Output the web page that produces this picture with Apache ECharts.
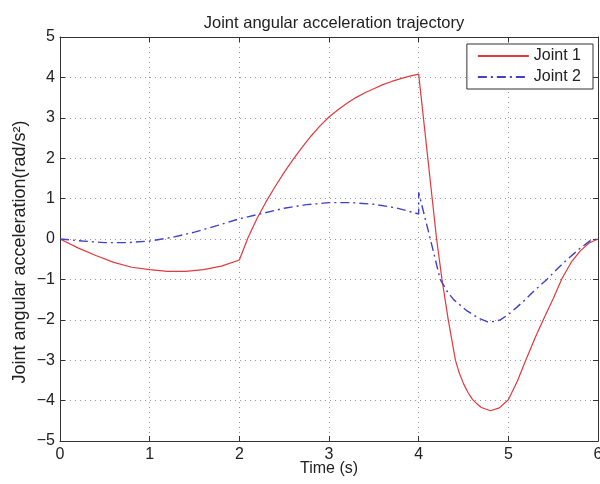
<!DOCTYPE html>
<html>
<head>
<meta charset="utf-8">
<script src="https://cdn.jsdelivr.net/npm/echarts@6/dist/echarts.min.js"></script>
<style>
html,body{margin:0;padding:0;background:#fff;}
#chart{width:600px;height:484px;}
</style>
</head>
<body>
<div id="chart"></div>
<script>
// ---- data ----
const titleText = 'Joint angular acceleration trajectory';
const xName = 'Time (s)';
const yName = 'Joint angular acceleration(rad/s\u00B2)';
const seriesNames = ['Joint 1', 'Joint 2'];

const timeJoint1 = [0, 0.2, 0.4, 0.6, 0.8, 1.0, 1.2, 1.4, 1.6, 1.8, 2.0,
  2.1, 2.2, 2.3, 2.4, 2.5, 2.6, 2.7, 2.8, 2.9, 3.0, 3.1, 3.2, 3.3, 3.4, 3.5, 3.6, 3.7, 3.8, 3.9, 4.0,
  4.2, 4.26, 4.33, 4.41, 4.45, 4.5, 4.55, 4.6, 4.65, 4.7, 4.8, 4.9, 5.0, 5.1, 5.2, 5.3, 5.4, 5.5, 5.6, 5.7, 5.8, 5.9, 6.0];
const joint1 = [0, -0.22, -0.41, -0.58, -0.7, -0.76, -0.8, -0.8, -0.76, -0.67, -0.52,
  0.05, 0.52, 0.93, 1.3, 1.65, 1.97, 2.27, 2.55, 2.8, 3.02, 3.2, 3.36, 3.5, 3.62, 3.72, 3.82, 3.9, 3.97, 4.03, 4.08,
  0.0, -1.0, -2.0, -3.0, -3.3, -3.58, -3.8, -3.97, -4.08, -4.17, -4.25, -4.18, -3.98, -3.52, -2.97, -2.44, -1.95, -1.48, -0.97, -0.58, -0.3, -0.1, 0];

const timeJoint2 = [0, 0.25, 0.5, 0.75, 1.0, 1.25, 1.5, 1.75, 2.0, 2.25, 2.5, 2.75, 3.0, 3.25, 3.5, 3.75, 4.0, 4.0,
  4.13, 4.24, 4.32, 4.39, 4.47, 4.54, 4.66, 4.77, 4.85, 4.91, 5.0, 5.1, 5.2, 5.28, 5.43, 5.55, 5.65, 5.8, 5.92, 6.0];
const joint2 = [0, -0.05, -0.09, -0.09, -0.05, 0.04, 0.17, 0.33, 0.5, 0.63, 0.76, 0.85, 0.9, 0.9, 0.86, 0.77, 0.62, 1.15,
  0.0, -1.0, -1.3, -1.5, -1.65, -1.78, -1.95, -2.05, -2.04, -2.0, -1.87, -1.68, -1.48, -1.3, -1.0, -0.73, -0.52, -0.23, -0.03, 0];

const xMin = 0, xMax = 6, xStep = 1;
const yMin = -5, yMax = 5, yStep = 1;

// ---- chart ----
const font = '"Liberation Sans", Arial, Helvetica, sans-serif';
const fmt = v => String(v).replace('-', '\u2212');
const axisCommon = {
  type: 'value',
  axisLine: { show: true, onZero: false, lineStyle: { color: '#333', width: 1 } },
  axisTick: { show: true, inside: true, length: 5, lineStyle: { color: '#333' } },
};
const gridLine = { show: true, lineStyle: { color: '#999', type: [1, 4], width: 1 } };
const chart = echarts.init(document.getElementById('chart'), null, { renderer: 'canvas' });
chart.setOption({
  animation: false,
  backgroundColor: '#fff',
  title: {
    text: titleText, left: 329, top: 10, textAlign: 'center',
    textStyle: { fontFamily: font, fontSize: 16.5, fontWeight: 'normal', color: '#222' }
  },
  legend: {
    right: 7, top: 44, orient: 'vertical', align: 'left',
    backgroundColor: '#fff', borderColor: '#333', borderWidth: 1, borderRadius: 0,
    padding: [4, 12, 4, 10], itemGap: 5, itemWidth: 51, itemHeight: 14,
    itemStyle: { opacity: 0 },
    textStyle: { fontFamily: font, fontSize: 16, color: '#222' },
    data: seriesNames
  },
  grid: { left: 60, right: 2, top: 37, bottom: 43, containLabel: false, outerBoundsMode: 'none' },
  xAxis: [
    Object.assign({}, axisCommon, {
      position: 'bottom', min: xMin, max: xMax, interval: xStep,
      name: xName, nameLocation: 'middle', nameGap: 20, nameMoveOverlap: false,
      nameTextStyle: { fontFamily: font, fontSize: 16, color: '#222' },
      axisLabel: { fontFamily: font, fontSize: 16, color: '#222', margin: 6, formatter: fmt },
      splitLine: gridLine
    }),
    Object.assign({}, axisCommon, {
      position: 'top', min: xMin, max: xMax, interval: xStep,
      axisLabel: { show: false }, splitLine: { show: false }
    })
  ],
  yAxis: [
    Object.assign({}, axisCommon, {
      position: 'left', min: yMin, max: yMax, interval: yStep,
      name: yName, nameLocation: 'middle', nameGap: 31, nameRotate: 90, nameMoveOverlap: false,
      nameTextStyle: { fontFamily: font, fontSize: 18, color: '#222', padding: [0, 26, 0, 0] },
      axisLabel: { fontFamily: font, fontSize: 16, color: '#222', margin: 5, formatter: fmt },
      splitLine: gridLine
    }),
    Object.assign({}, axisCommon, {
      position: 'right', min: yMin, max: yMax, interval: yStep,
      axisLabel: { show: false }, splitLine: { show: false }
    })
  ],
  series: [
    {
      name: seriesNames[0], type: 'line', symbol: 'none', showSymbol: false,
      data: timeJoint1.map((t, i) => [t, joint1[i]]),
      lineStyle: { color: '#e0393e', width: 1.2 },
      itemStyle: { color: '#e0393e' }
    },
    {
      name: seriesNames[1], type: 'line', symbol: 'none', showSymbol: false,
      data: timeJoint2.map((t, i) => [t, joint2[i]]),
      lineStyle: { color: '#4040c8', width: 1.4, type: [9, 4, 2, 4] },
      itemStyle: { color: '#4040c8' }
    }
  ]
});
</script>
</body>
</html>
